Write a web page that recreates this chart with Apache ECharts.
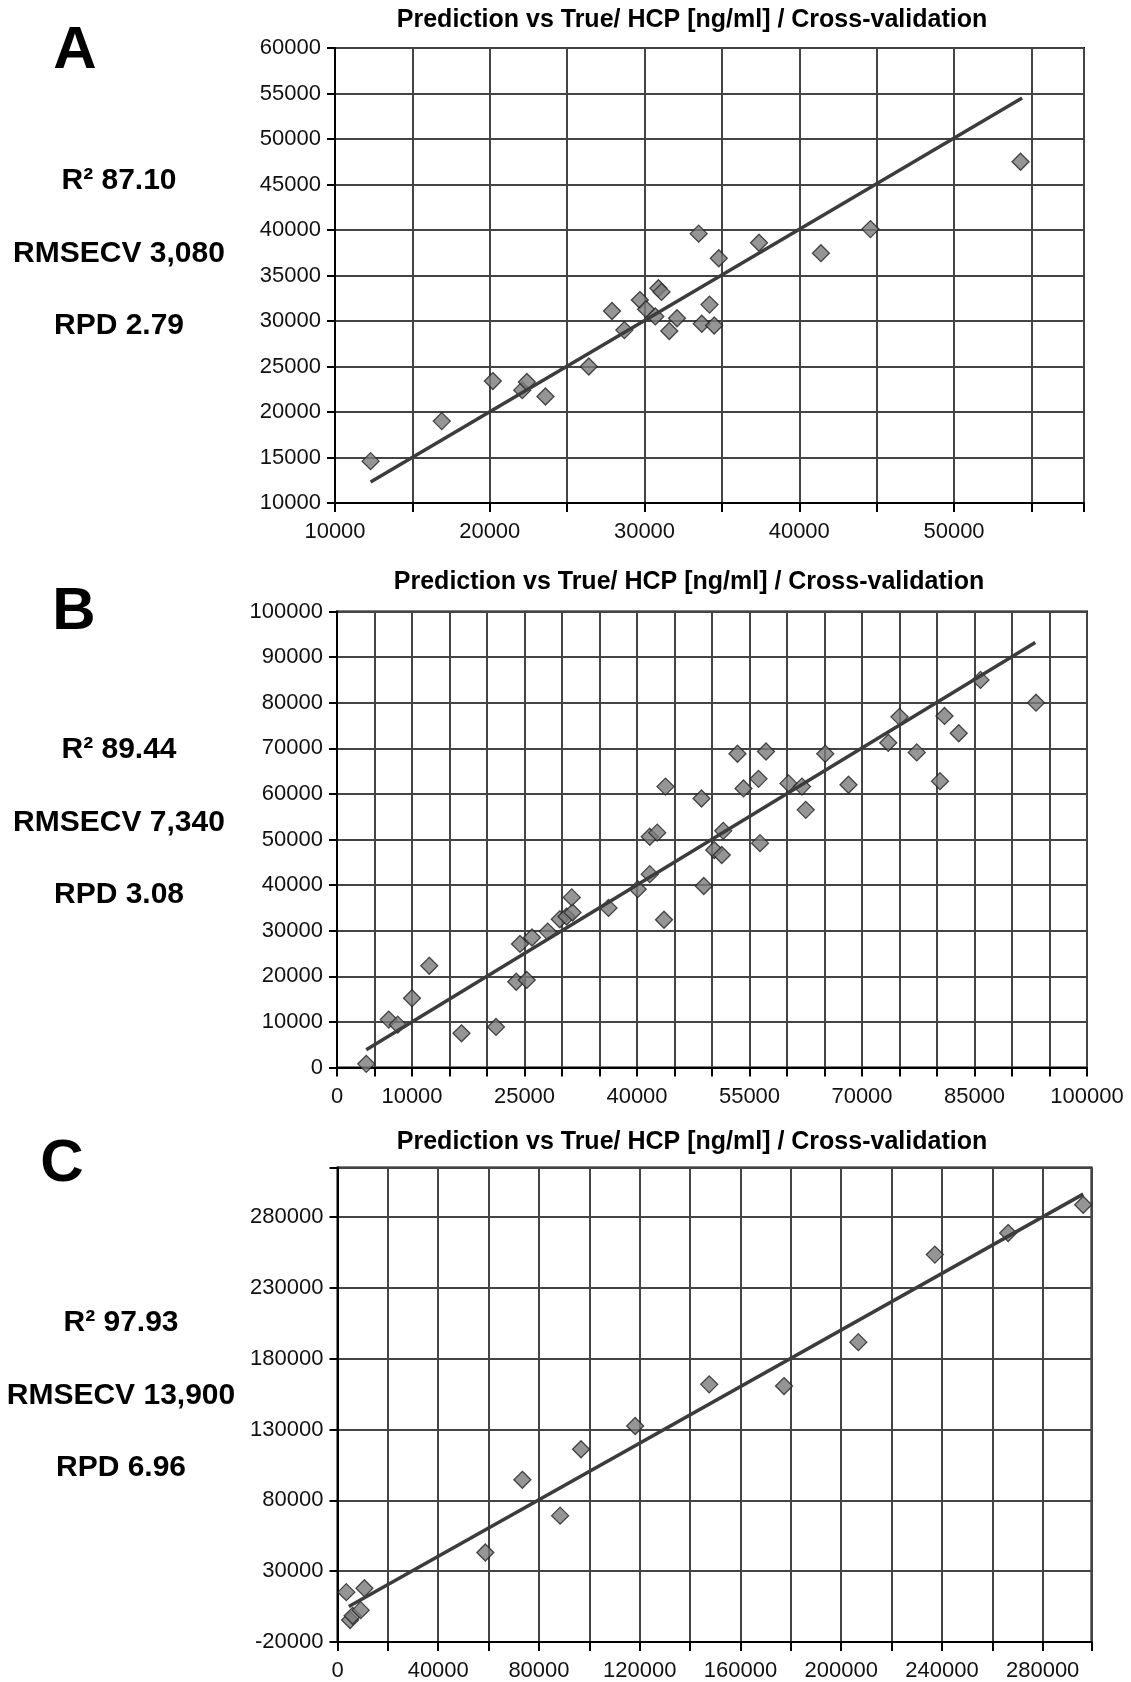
<!DOCTYPE html>
<html>
<head>
<meta charset="utf-8">
<script src="https://cdn.jsdelivr.net/npm/echarts@6/dist/echarts.min.js"></script>
<style>
html,body{margin:0;padding:0;background:#fff;}
#chart{width:1131px;height:1682px;}
</style>
</head>
<body>
<div id="chart"></div>
<script>
// ---------- Data ----------
// Panel A: true vs predicted HCP
const aTrue = [12300,16900,20200,22100,22400,23600,26400,27900,28700,29700,30100,30700,30900,31100,31600,32100,33500,33700,34200,34500,34800,37400,41400,44600,54300];
const aPred = [14600,19000,23400,22400,23300,21700,25000,31100,29000,32300,31300,30500,33600,33200,28900,30300,39600,29700,31800,29500,36900,38600,37450,40100,47500];
const aTrendX = [12300, 54400];
const aTrendY = [12300, 54500];

// Panel B
const bTrue = [3900,6900,8100,10000,12300,16600,21200,23900,24400,25300,26000,28100,29700,30600,31400,31300,36200,40100,41700,41700,42700,43600,43800,48600,48900,50300,51300,51500,54200,53400,56200,57200,56400,60200,62000,62500,65100,68200,73500,75000,77300,80400,81000,82900,85800,93200];
const bPred = [800,10500,9400,15200,22300,7500,8900,18800,27100,19200,28500,29800,32500,33100,34000,37300,35000,39100,42400,50600,51500,32400,61600,59000,39800,47700,46600,51900,61200,68800,63300,69300,49200,62300,61600,56500,68800,62000,71200,76900,69100,62800,77100,73300,85000,80000];
const bTrendX = [3900, 93100];
const bTrendY = [3900, 93200];

// Panel C
const cTrue = [3500,10700,5000,6000,9200,58700,73400,88400,96700,118200,147600,177300,206800,237200,266300,296100];
const cPred = [15200,18000,-4500,-1500,2500,43200,94500,69200,116100,132500,161900,160700,191700,253500,268700,288700];
const cTrendX = [4500, 296100];
const cTrendY = [5000, 296200];

// Tick labels
const aXLabels = [10000,20000,30000,40000,50000];
const bXLabels = [0,10000,25000,40000,55000,70000,85000,100000];
const cXLabels = [0,40000,80000,120000,160000,200000,240000,280000];
const cYLabels = [-20000,30000,80000,130000,180000,230000,280000];

// Text
const chartTitle = 'Prediction vs True/ HCP [ng/ml] / Cross-validation';
const panelLetters = ['A','B','C'];
const statsA = ['R\u00b2 87.10','RMSECV 3,080','RPD 2.79'];
const statsB = ['R\u00b2 89.44','RMSECV 7,340','RPD 3.08'];
const statsC = ['R\u00b2 97.93','RMSECV 13,900','RPD 6.96'];

// ---------- Build ----------
const FONT = '"Liberation Sans", Arial, Helvetica, sans-serif';
const pairs = (xs, ys) => xs.map((x, i) => [x, ys[i]]);

function xAxisCfg(idx, min, max, interval, labels) {
  return {
    type: 'value', gridIndex: idx, min: min, max: max, interval: interval,
    axisLine: {show: true, onZero: false, lineStyle: {color: '#000', width: 2}},
    axisTick: {show: true, inside: false, length: 9, lineStyle: {color: '#000', width: 2}},
    splitLine: {show: true, lineStyle: {color: '#444', width: 2}},
    axisLabel: {
      color: '#111', fontSize: 22, fontFamily: FONT, margin: 18,
      showMinLabel: true, showMaxLabel: true,
      formatter: v => labels.indexOf(Math.round(v)) >= 0 ? String(Math.round(v)) : ''
    }
  };
}
function yAxisCfg(idx, min, max, interval, labels) {
  return {
    type: 'value', gridIndex: idx, min: min, max: max, interval: interval,
    axisLine: {show: true, onZero: false, lineStyle: {color: '#000', width: 2}},
    axisTick: {show: true, inside: false, length: 8, lineStyle: {color: '#000', width: 2}},
    splitLine: {show: true, lineStyle: {color: '#444', width: 2}},
    axisLabel: {
      color: '#111', fontSize: 22, fontFamily: FONT, margin: 14,
      formatter: v => labels.indexOf(Math.round(v)) >= 0 ? String(Math.round(v)) : ''
    }
  };
}
const range = (a, b, s) => { const r = []; for (let v = a; v <= b; v += s) r.push(v); return r; };

function scatter(idx, xs, ys) {
  return {
    type: 'scatter', xAxisIndex: idx, yAxisIndex: idx, data: pairs(xs, ys),
    symbol: 'diamond', symbolSize: 17, z: 3,
    itemStyle: {color: '#7a7a7a', borderColor: '#222', borderWidth: 1.3}
  };
}
function trend(idx, xs, ys) {
  return {
    type: 'line', xAxisIndex: idx, yAxisIndex: idx, data: pairs(xs, ys),
    symbol: 'none', z: 4,
    lineStyle: {color: '#3c3c3c', width: 3.5}
  };
}

const graphics = [];
function txt(x, y, s, size, weight) {
  graphics.push({type: 'text', x: x, y: y, z: 10,
    style: {text: s, fill: '#000', font: weight + ' ' + size + 'px ' + FONT, textAlign: 'center', textVerticalAlign: 'middle'}});
}
// Titles
txt(692, 20, chartTitle, 25, 'bold');
txt(689, 582, chartTitle, 25, 'bold');
txt(692, 1142, chartTitle, 25, 'bold');
// Panel letters
txt(75, 51, panelLetters[0], 60, 'bold');
txt(74, 612, panelLetters[1], 60, 'bold');
txt(62, 1164, panelLetters[2], 60, 'bold');
// Stats
const statY = [[181, 254, 326], [750, 823, 895], [1323, 1396, 1468]];
[statsA, statsB, statsC].forEach((arr, p) => {
  arr.forEach((s, i) => txt(p === 2 ? 121 : 119, statY[p][i], s, 30, 'bold'));
});

const option = {
  animation: false,
  backgroundColor: '#fff',
  grid: [
    {left: 335, top: 48, width: 749, height: 455, show: true, borderColor: '#000', borderWidth: 2},
    {left: 337, top: 611.5, width: 750, height: 456, show: true, borderColor: '#000', borderWidth: 2},
    {left: 337.5, top: 1167.5, width: 754, height: 476, show: true, borderColor: '#000', borderWidth: 2}
  ],
  xAxis: [
    xAxisCfg(0, 10000, 58400, 5000, aXLabels),
    xAxisCfg(1, 0, 100000, 5000, bXLabels),
    xAxisCfg(2, 0, 299400, 20000, cXLabels)
  ],
  yAxis: [
    yAxisCfg(0, 10000, 60000, 5000, range(10000, 60000, 5000)),
    yAxisCfg(1, 0, 100000, 10000, range(0, 100000, 10000)),
    yAxisCfg(2, -20000, 315000, 50000, cYLabels)
  ],
  series: [
    scatter(0, aTrue, aPred), trend(0, aTrendX, aTrendY),
    scatter(1, bTrue, bPred), trend(1, bTrendX, bTrendY),
    scatter(2, cTrue, cPred), trend(2, cTrendX, cTrendY)
  ],
  graphic: graphics
};

const chart = echarts.init(document.getElementById('chart'), null, {renderer: 'canvas', width: 1131, height: 1682});
chart.setOption(option);
</script>
</body>
</html>
